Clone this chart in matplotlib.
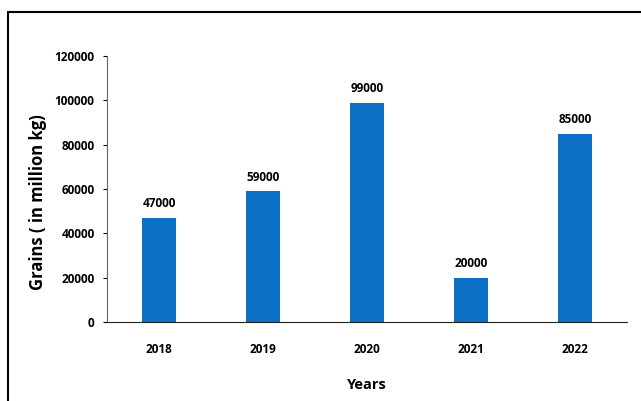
import matplotlib.pyplot as plt
from matplotlib.patches import Rectangle

years = ['2018', '2019', '2020', '2021', '2022']
grains = [47000, 59000, 99000, 20000, 85000]
yticks = [0, 20000, 40000, 60000, 80000, 100000, 120000]

plt.rcParams['font.family'] = ['Open Sans', 'DejaVu Sans']

fig = plt.figure(figsize=(6.41, 4.01), dpi=100)
ax = fig.add_axes([0.167, 0.197, 0.811, 0.663])

# outer frame of the chart area
fig.patches.append(Rectangle((8 / 641, -0.01), 1.0, (401 - 12) / 401 + 0.01,
                             transform=fig.transFigure, fill=False,
                             edgecolor='black', linewidth=1.5))

bars = ax.bar(years, grains, width=0.32, color='#0b6fc6')
for b, v in zip(bars, grains):
    ax.text(b.get_x() + b.get_width() / 2, v + 3500, str(v),
            ha='center', va='bottom', fontsize=8.5, fontweight='bold')

ax.set_ylim(0, 120000)
ax.set_xlim(-0.5, 4.5)
ax.set_yticks(yticks)
ax.tick_params(axis='y', labelsize=8.5, length=3, width=0.8, pad=6)
ax.tick_params(axis='x', labelsize=8.5, length=0, pad=15)
for lbl in ax.get_xticklabels() + ax.get_yticklabels():
    lbl.set_fontweight('bold')

ax.spines['top'].set_visible(False)
ax.spines['right'].set_visible(False)
ax.spines['left'].set_color('#666666')
ax.spines['bottom'].set_color('#222222')

ax.set_xlabel('Years', fontsize=10.5, fontweight='bold', labelpad=16)
ax.set_ylabel('Grains ( in million kg)', fontsize=12, fontweight='bold')
ax.yaxis.set_label_coords(-0.115, 0.45)

fig.savefig('out.png', dpi=100)
